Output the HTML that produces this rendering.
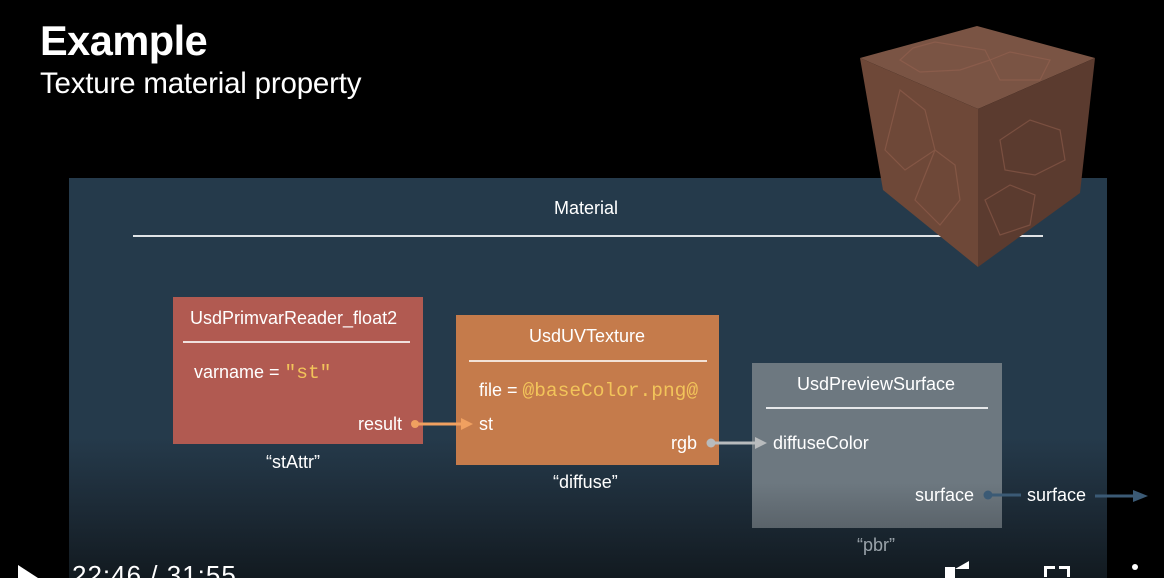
<!DOCTYPE html>
<html style="width:1164px;height:578px;overflow:hidden"><head><meta charset="utf-8"><style>
*{margin:0;padding:0}
body{width:1164px;height:578px;background:#000;position:relative;overflow:hidden;font-family:"Liberation Sans",sans-serif;color:#fff}
.a{position:absolute;white-space:nowrap}
.mono{font-family:"Liberation Mono",monospace;color:#f2c45a;font-size:19.5px}
</style></head><body>
<div class="a" style="left:40px;top:17px;font-size:41.5px;font-weight:bold;letter-spacing:-0.5px">Example</div>
<div class="a" style="left:40px;top:67px;font-size:29.5px;letter-spacing:-0.2px">Texture material property</div>
<div class="a" style="left:69px;top:178px;width:1038px;height:400px;background:linear-gradient(#253a4b 0px,#253a4b 260px,#1b2833 340px,#121a20 400px)"></div>
<div class="a" style="left:554px;top:198px;font-size:18px">Material</div>
<div class="a" style="left:133px;top:235px;width:910px;height:2px;background:#dfe3e6"></div>

<div class="a" style="left:173px;top:297px;width:250px;height:147px;background:#b15a51"></div>
<div class="a" style="left:190px;top:308px;font-size:18px">UsdPrimvarReader_float2</div>
<div class="a" style="left:183px;top:341px;width:227px;height:2px;background:#f0e0de"></div>
<div class="a" style="left:194px;top:362px;font-size:18px">varname = <span class="mono">"st"</span></div>
<div class="a" style="left:358px;top:414px;font-size:18px">result</div>
<div class="a" style="left:266px;top:452px;font-size:18px">“stAttr”</div>

<div class="a" style="left:456px;top:315px;width:263px;height:150px;background:#c57b4b"></div>
<div class="a" style="left:529px;top:326px;font-size:18px">UsdUVTexture</div>
<div class="a" style="left:469px;top:360px;width:238px;height:2px;background:#f3e2d6"></div>
<div class="a" style="left:479px;top:380px;font-size:18px">file = <span class="mono">@baseColor.png@</span></div>
<div class="a" style="left:479px;top:414px;font-size:18px">st</div>
<div class="a" style="left:671px;top:433px;font-size:18px">rgb</div>
<div class="a" style="left:553px;top:472px;font-size:18px">“diffuse”</div>

<div class="a" style="left:752px;top:363px;width:250px;height:165px;background:linear-gradient(#6d7880 0px,#6d7880 120px,#5a636a 165px)"></div>
<div class="a" style="left:797px;top:374px;font-size:18px">UsdPreviewSurface</div>
<div class="a" style="left:766px;top:407px;width:222px;height:2px;background:#e6e8ea"></div>
<div class="a" style="left:773px;top:433px;font-size:18px">diffuseColor</div>
<div class="a" style="left:915px;top:485px;font-size:18px">surface</div>
<div class="a" style="left:1027px;top:485px;font-size:18px">surface</div>
<div class="a" style="left:857px;top:535px;font-size:18px;color:#9aa3aa">“pbr”</div>

<svg class="a" style="left:0;top:0" width="1164" height="578">
<circle cx="415" cy="424" r="4" fill="#f0a060"/>
<line x1="415" y1="424" x2="463" y2="424" stroke="#f0a060" stroke-width="3"/>
<polygon points="461,418 473,424 461,430" fill="#f0a060"/>
<circle cx="711" cy="443" r="4.5" fill="#b8bbbd"/>
<line x1="711" y1="443" x2="757" y2="443" stroke="#b8bbbd" stroke-width="3"/>
<polygon points="755,437 767,443 755,449" fill="#b8bbbd"/>
<circle cx="988" cy="495" r="4.5" fill="#3b5a75"/>
<line x1="988" y1="495" x2="1021" y2="495" stroke="#3b5a75" stroke-width="3"/>
<line x1="1095" y1="496" x2="1135" y2="496" stroke="#3b5a75" stroke-width="3"/>
<polygon points="1133,490 1148,496 1133,502" fill="#3b5a75"/>
<polygon points="860,58 977,26 1095,58 978,109" fill="#7a5444"/>
<polygon points="860,58 978,109 978,267 883,190" fill="#6e4838"/>
<polygon points="978,109 1095,58 1080,193 978,267" fill="#5b3b2f"/>
<g fill="none" stroke="#9a6452" stroke-width="1.2" opacity="0.5">
<path d="M913,48 L935,42 L985,50 L990,60 L960,70 L920,72 L900,60 Z"/>
<path d="M990,60 L1010,52 L1050,60 L1040,80 L1000,80 Z"/>
<path d="M900,90 L925,110 L935,150 L905,170 L885,150 Z"/>
<path d="M935,150 L955,165 L960,200 L940,225 L915,200 Z"/>
<path d="M1000,140 L1030,120 L1060,130 L1065,160 L1035,175 L1005,170 Z"/>
<path d="M985,200 L1010,185 L1035,195 L1030,225 L1000,235 Z"/>
</g>
<polygon points="18,565 38,578 18,578" fill="#fff"/>
</svg>
<div class="a" style="left:72px;top:560px;font-size:26px;letter-spacing:1px">22:46 / 31:55</div>
<div class="a" style="left:945px;top:567px;width:10px;height:11px;background:#fff"></div>
<div class="a" style="left:955px;top:561px;width:0;height:0;border-right:14px solid #fff;border-top:8px solid transparent"></div>
<div class="a" style="left:1044px;top:566px;width:8px;height:8px;border-left:3px solid #fff;border-top:3px solid #fff"></div>
<div class="a" style="left:1059px;top:566px;width:8px;height:8px;border-right:3px solid #fff;border-top:3px solid #fff"></div>
<div class="a" style="left:1132px;top:564px;width:6px;height:6px;border-radius:3px;background:#fff"></div>
</body></html>
